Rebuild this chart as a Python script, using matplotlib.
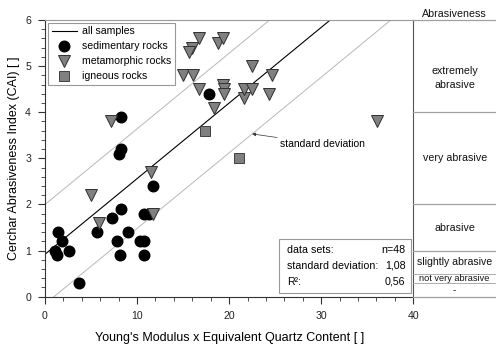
import numpy as np
from matplotlib import pyplot as plt
from matplotlib.patches import Rectangle

plt.rcParams['font.family'] = ['Liberation Sans', 'DejaVu Sans']

# sedimentary rocks
sed_x = [1.1, 1.3, 1.4, 1.9, 2.6, 3.7, 5.7, 7.3, 7.8, 8.2, 8.1, 9.0, 10.3, 10.7,
         10.7, 10.8, 11.3, 11.7, 8.0, 8.2, 8.3, 17.8]
sed_y = [1.0, 0.9, 1.4, 1.2, 1.0, 0.3, 1.4, 1.7, 1.2, 1.9, 0.9, 1.4, 1.2, 1.2,
         0.9, 1.8, 1.8, 2.4, 3.1, 3.2, 3.9, 4.4]

# metamorphic rocks
met_x = [5.0, 5.9, 11.5, 11.7, 7.2, 16.7, 16.0, 15.6, 18.8, 19.3, 15.0, 16.1,
         16.7, 18.4, 19.3, 19.4, 19.4, 21.6, 21.6, 22.5, 22.5, 24.6, 24.3, 36.1]
met_y = [2.2, 1.6, 2.7, 1.8, 3.8, 5.6, 5.4, 5.3, 5.5, 5.6, 4.8, 4.8,
         4.5, 4.1, 4.6, 4.5, 4.4, 4.3, 4.5, 4.5, 5.0, 4.8, 4.4, 3.8]

# igneous rocks
ign_x = [17.4, 21.1]
ign_y = [3.6, 3.0]

# regression over all samples
fit_intercept = 0.92
fit_slope = 0.164
std_dev = 1.08
n_sets = 48
r_squared = 0.56

# CAI classes
class_bounds = [6, 4, 2, 1, 0.5, 0.3, 0]
class_names = ["extremely\nabrasive", "very abrasive", "abrasive",
               "slightly abrasive", "not very abrasive", "-"]

fig = plt.figure(figsize=(4.96, 3.47), dpi=100)
ax = fig.add_axes([45 / 496, 50.3 / 347, 368.3 / 496, 276.7 / 347])

xs = np.array([0, 40])
ax.plot(xs, fit_intercept + fit_slope * xs, color='black', lw=0.8,
        label='all samples', zorder=2)
ax.plot(xs, fit_intercept + std_dev + fit_slope * xs, color='#b8b8b8', lw=0.7, zorder=1)
ax.plot(xs, fit_intercept - std_dev + fit_slope * xs, color='#b8b8b8', lw=0.7, zorder=1)

ax.plot(sed_x, sed_y, 'o', ms=7.6, color='black', mec='black',
        label='sedimentary rocks', zorder=3)
ax.plot(met_x, met_y, 'v', ms=8.6, color='#808080', mec='#303030', mew=0.7,
        label='metamorphic rocks', zorder=3)
ax.plot(ign_x, ign_y, 's', ms=7.4, color='#808080', mec='#404040', mew=0.7,
        label='igneous rocks', zorder=3)

ax.set_xlim(0, 40)
ax.set_ylim(0, 6)
ax.set_xticks([0, 10, 20, 30, 40])
ax.set_xticks(np.arange(0, 41, 2), minor=True)
ax.set_yticks(range(7))
ax.set_yticks(np.arange(0, 6.01, 0.2), minor=True)
ax.tick_params(which='both', direction='out', color='#333333', labelsize=7.6,
               labelcolor='#222222', top=False, right=False)
ax.tick_params(which='major', length=5, pad=5)
ax.tick_params(which='minor', length=3)
for side in ['left', 'bottom']:
    ax.spines[side].set_color('#333333')
ax.spines['right'].set_color('#555555')
ax.spines['top'].set_color('#999999')

ax.set_xlabel("Young's Modulus x Equivalent Quartz Content [ ]", fontsize=9, labelpad=8)
ax.set_ylabel("Cerchar Abrasiveness Index (CAI) [ ]", fontsize=9, labelpad=4)

leg = ax.legend(loc='upper left', bbox_to_anchor=(0.008, 0.99), fontsize=7.6,
                frameon=True, fancybox=False, edgecolor='#999999', framealpha=1,
                handlelength=2.4, handletextpad=0.45, labelspacing=0.47,
                borderpad=0.35, borderaxespad=0)
leg.get_frame().set_linewidth(0.8)
leg.set_zorder(6)

x_arrow = 22.5
ax.annotate('standard deviation',
            xy=(x_arrow, fit_intercept - std_dev + fit_slope * x_arrow),
            xytext=(25.5, 3.31), fontsize=7.5, ha='left', va='center',
            arrowprops=dict(arrowstyle='-|>', lw=0.5, color='#333333',
                            mutation_scale=5, shrinkA=0, shrinkB=0))

# statistics box
ax.add_patch(Rectangle((0.635, 0.012), 0.358, 0.198, transform=ax.transAxes,
                       fill=True, facecolor='white', edgecolor='#999999', lw=0.8, zorder=4))
stats = [("data sets:", f"n={n_sets}"),
         ("standard deviation:", f"{std_dev:.2f}".replace('.', ',')),
         ("R²:", f"{r_squared:.2f}".replace('.', ','))]
for i, (lab, val) in enumerate(stats):
    y = 0.169 - i * 0.0575
    ax.text(0.657, y, lab, transform=ax.transAxes, fontsize=7.7, va='center', zorder=5)
    ax.text(0.979, y, val, transform=ax.transAxes, fontsize=7.7, va='center',
            ha='right', zorder=5)

# abrasiveness classes on the right
ax2 = fig.add_axes([413.3 / 496, 50.3 / 347, 1 - 413.3 / 496, 276.7 / 347])
ax2.set_xlim(0, 1)
ax2.set_ylim(0, 6)
ax2.axis('off')
for b in class_bounds:
    thin = b in (0.5, 0.3)
    ax2.axhline(b, color='#a0a0a0', lw=0.6 if thin else 0.9, clip_on=False)
label_y = [4.75, 3, 1.5, 0.75, 0.4, 0.15]
sizes = [7.7, 7.7, 7.7, 7.6, 6.6, 7]
for name, y, fs in zip(class_names, label_y, sizes):
    ax2.text(0.5, y, name, ha='center', va='center', fontsize=fs,
             linespacing=1.5, color='#111111')
ax2.text(0.5, 6.13, 'Abrasiveness', ha='center', va='center', fontsize=7.7,
         color='#111111')

fig.savefig('out.png', dpi=100)
